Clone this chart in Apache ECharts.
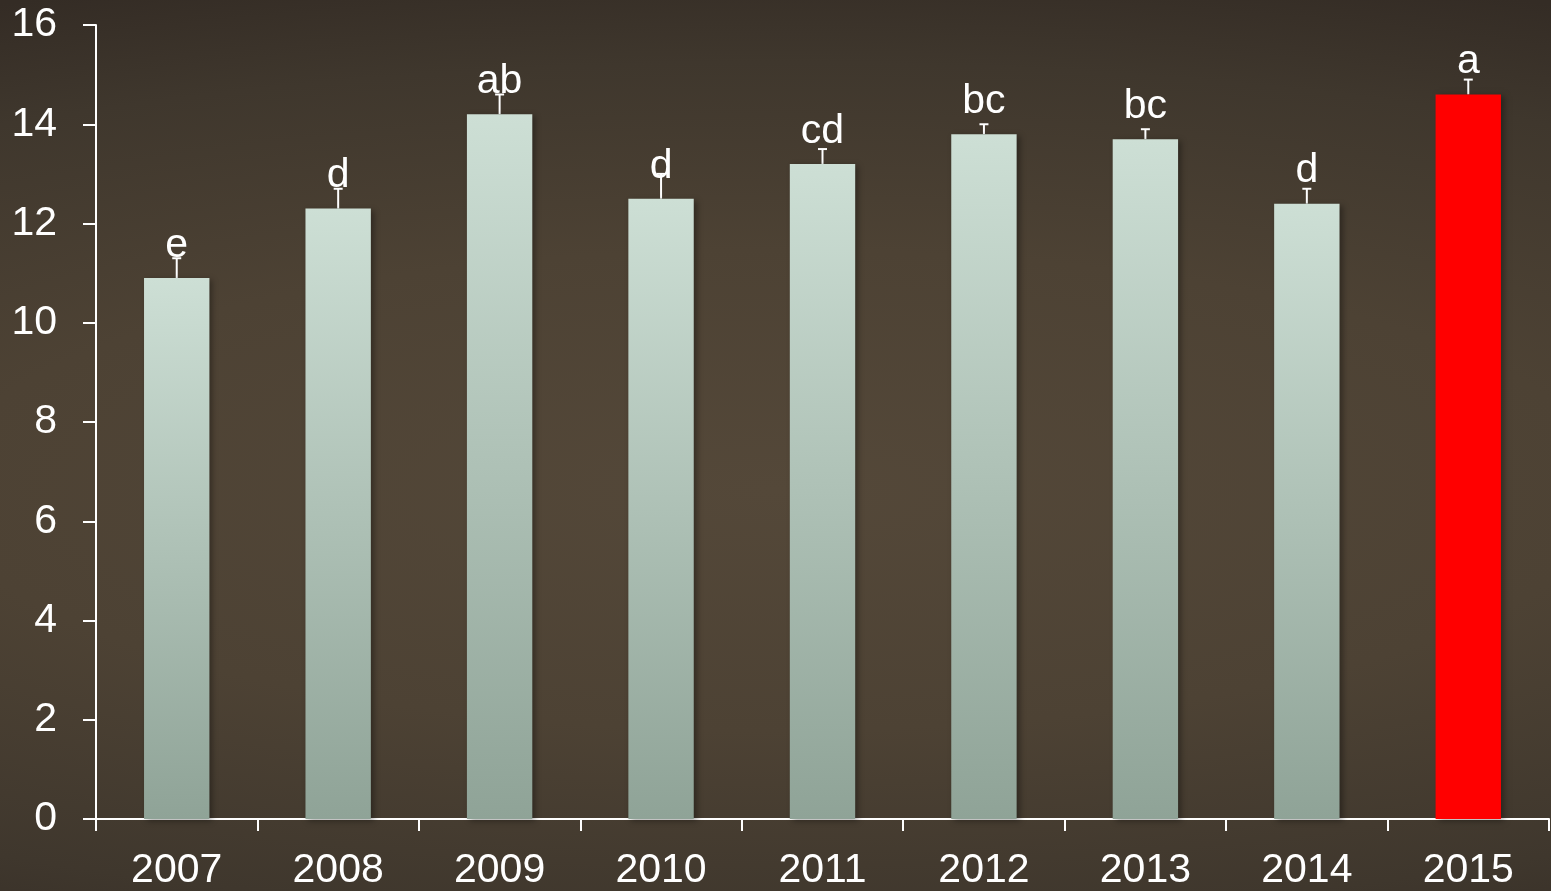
<!DOCTYPE html>
<html>
<head>
<meta charset="utf-8">
<script src="https://cdn.jsdelivr.net/npm/echarts@6/dist/echarts.min.js"></script>
<style>
html,body{margin:0;padding:0;width:1551px;height:891px;overflow:hidden;}
#c{width:1551px;height:891px;background:radial-gradient(ellipse 120% 60% at 50% 55%, #544839 0%, #4d4234 45%, #3f372d 80%, #342c25 100%);}
</style>
</head>
<body>
<div id="c"></div>
<script>
const years = ['2007','2008','2009','2010','2011','2012','2013','2014','2015'];
const values = [10.9, 12.3, 14.2, 12.5, 13.2, 13.8, 13.7, 12.4, 14.6];
const errors = [0.4, 0.4, 0.4, 0.5, 0.3, 0.2, 0.2, 0.3, 0.3];
const letters = ['e','d','ab','d','cd','bc','bc','d','a'];
const yTicks = [0, 2, 4, 6, 8, 10, 12, 14, 16];

const FONT = '"Liberation Sans", Arial, sans-serif';
const chart = echarts.init(document.getElementById('c'), null, {renderer:'canvas'});

const barGrad = new echarts.graphic.LinearGradient(0,0,0,1,[
  {offset:0,color:'#cddfd5'},{offset:1,color:'#8fa397'}
]);

chart.setOption({
  backgroundColor: 'transparent',
  animation: false,
  grid: {left: 96, right: 2, top: 25, bottom: 71, containLabel: false},
  xAxis: {
    type: 'category',
    data: years,
    boundaryGap: true,
    axisLine: {show: true, lineStyle: {color: '#ffffff', width: 2}},
    axisTick: {show: true, length: 12, alignWithLabel: false, lineStyle: {color: '#ffffff', width: 2}},
    axisLabel: {color: '#ffffff', fontSize: 41, fontFamily: FONT, margin: 31},
    splitLine: {show: false}
  },
  yAxis: {
    type: 'value',
    min: yTicks[0], max: yTicks[yTicks.length-1], interval: 2,
    axisLine: {show: true, lineStyle: {color: '#ffffff', width: 2}},
    axisTick: {show: true, length: 13, lineStyle: {color: '#ffffff', width: 2}},
    axisLabel: {color: '#ffffff', fontSize: 41, fontFamily: FONT, margin: 39},
    splitLine: {show: false}
  },
  series: [
    {
      type: 'bar',
      barWidth: '40.5%',
      data: values.map((v, i) => ({
        value: v,
        itemStyle: i === values.length - 1 ? {color: '#ff0000'} : {color: barGrad}
      })),
      itemStyle: {shadowBlur: 6, shadowColor: 'rgba(0,0,0,0.35)', shadowOffsetX: 3, shadowOffsetY: 2},
      label: {
        show: true, position: 'top', distance: 12,
        formatter: p => letters[p.dataIndex],
        color: '#ffffff', fontSize: 41, fontFamily: FONT
      },
      z: 2
    },
    {
      type: 'custom',
      data: values.map((v, i) => [i, v, errors[i]]),
      renderItem: function (params, api) {
        const x = api.value(0);
        const base = api.coord([x, api.value(1)]);
        const top = api.coord([x, api.value(1) + api.value(2)]);
        return {
          type: 'group',
          children: [
            {type: 'line', shape: {x1: base[0], y1: base[1], x2: top[0], y2: top[1]}, style: {stroke: '#ffffff', lineWidth: 2}},
            {type: 'line', shape: {x1: top[0]-4.5, y1: top[1], x2: top[0]+4.5, y2: top[1]}, style: {stroke: '#ffffff', lineWidth: 2}}
          ]
        };
      },
      z: 1
    }
  ]
});
</script>
</body>
</html>
